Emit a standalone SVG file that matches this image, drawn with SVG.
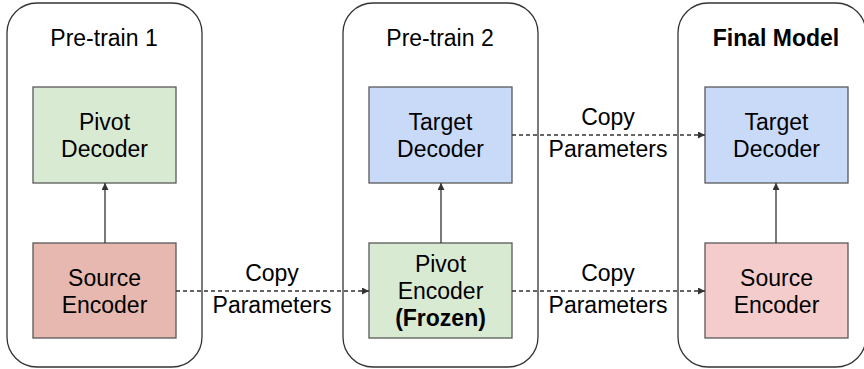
<svg xmlns="http://www.w3.org/2000/svg" width="864" height="369" viewBox="0 0 864 369">
<style>
.panel{fill:#fff;stroke:#333;stroke-width:1.3}
.box{stroke:#595959;stroke-width:1.3}
.green{fill:#d9ead3}
.blue{fill:#c9daf8}
.red{fill:#e6b8af}
.pink{fill:#f4cccc}
text{font-family:"Liberation Sans",Arial,sans-serif;font-size:23px;fill:#000;text-anchor:middle}
.b{font-weight:bold}
.solid{stroke:#333;stroke-width:1.3;fill:none}
.dash{stroke:#333;stroke-width:1.3;fill:none;stroke-dasharray:4 3}
</style>
<defs>
<marker id="ah" viewBox="0 0 10 10" refX="10" refY="5" markerWidth="7" markerHeight="7" markerUnits="userSpaceOnUse" orient="auto">
<path d="M0,0 L10,5 L0,10 z" fill="#333"/>
</marker>
</defs>
<g id="panel1">
<rect class="panel" x="7" y="3" width="195" height="364" rx="30"/>
<text x="104" y="46">Pre-train 1</text>
</g>
<g id="panel2">
<rect class="panel" x="343" y="3" width="195" height="364" rx="30"/>
<text x="440" y="46">Pre-train 2</text>
</g>
<g id="panel3">
<rect class="panel" x="678" y="3" width="188" height="364" rx="30"/>
<text class="b" x="776" y="46">Final Model</text>
</g>
<g id="pivot-decoder">
<rect class="box green" x="33" y="87" width="143" height="96"/>
<text x="104.5" y="130">Pivot</text>
<text x="104.5" y="157">Decoder</text>
</g>
<g id="source-encoder-1">
<rect class="box red" x="33" y="243" width="143" height="95"/>
<text x="104.5" y="286">Source</text>
<text x="104.5" y="313">Encoder</text>
</g>
<g id="target-decoder-2">
<rect class="box blue" x="369" y="87" width="143" height="96"/>
<text x="440.5" y="130">Target</text>
<text x="440.5" y="157">Decoder</text>
</g>
<g id="pivot-encoder">
<rect class="box green" x="369" y="243" width="143" height="95"/>
<text x="440.5" y="272">Pivot</text>
<text x="440.5" y="299">Encoder</text>
<text class="b" x="440.5" y="326">(Frozen)</text>
</g>
<g id="target-decoder-3">
<rect class="box blue" x="705" y="87" width="143" height="96"/>
<text x="776.5" y="130">Target</text>
<text x="776.5" y="157">Decoder</text>
</g>
<g id="source-encoder-3">
<rect class="box pink" x="705" y="243" width="143" height="95"/>
<text x="776.5" y="286">Source</text>
<text x="776.5" y="313">Encoder</text>
</g>
<g id="connectors">
<line class="solid" x1="105" y1="243" x2="105" y2="183" marker-end="url(#ah)"/>
<line class="solid" x1="441" y1="243" x2="441" y2="183" marker-end="url(#ah)"/>
<line class="solid" x1="776" y1="243" x2="776" y2="183" marker-end="url(#ah)"/>
<line class="dash" x1="176" y1="291" x2="369" y2="291" marker-end="url(#ah)"/>
<line class="dash" x1="512" y1="135" x2="705" y2="135" marker-end="url(#ah)"/>
<line class="dash" x1="512" y1="291" x2="705" y2="291" marker-end="url(#ah)"/>
<text x="272" y="281">Copy</text>
<text x="272" y="313">Parameters</text>
<text x="608" y="125">Copy</text>
<text x="608" y="157">Parameters</text>
<text x="608" y="281">Copy</text>
<text x="608" y="313">Parameters</text>
</g>
</svg>
